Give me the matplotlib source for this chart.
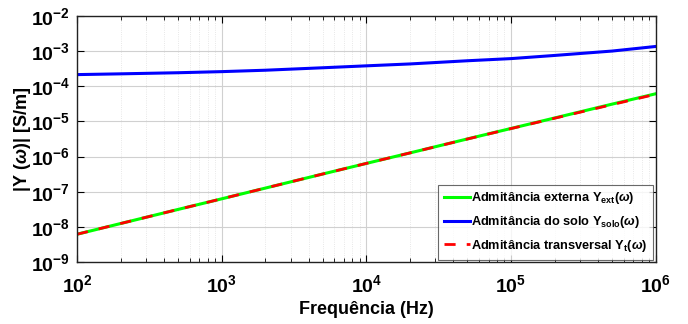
import matplotlib
matplotlib.use("Agg")
import matplotlib.pyplot as plt

plt.rcParams['font.family'] = ['Liberation Sans', 'DejaVu Sans']
plt.rcParams['font.weight'] = 'bold'
plt.rcParams['mathtext.fontset'] = 'custom'
plt.rcParams['mathtext.rm'] = 'Liberation Sans:bold'
plt.rcParams['mathtext.bf'] = 'Liberation Sans:bold'
plt.rcParams['mathtext.it'] = 'Liberation Sans:italic'

# frequency points (Hz) and admittances (S/m)
freq = [1e2, 2e2, 5e2, 1e3, 2e3, 5e3, 1e4, 2e4, 5e4, 1e5, 2e5, 5e5, 1e6]
y_ext = [6.2e-9, 1.25e-8, 3.15e-8, 6.3e-8, 1.27e-7, 3.2e-7, 6.4e-7,
         1.27e-6, 3.18e-6, 6.3e-6, 1.25e-5, 3.1e-5, 6.1e-5]
y_solo = [2.14e-4, 2.25e-4, 2.42e-4, 2.6e-4, 2.85e-4, 3.35e-4, 3.8e-4,
          4.3e-4, 5.3e-4, 6.1e-4, 7.5e-4, 1.0e-3, 1.35e-3]
y_t = [6.2e-9, 1.25e-8, 3.15e-8, 6.3e-8, 1.27e-7, 3.2e-7, 6.4e-7,
       1.27e-6, 3.16e-6, 6.25e-6, 1.23e-5, 3.0e-5, 5.9e-5]

labels = ['Admitância externa Y$_{\\mathbf{ext}}$($\\omega$)',
          'Admitância do solo Y$_{\\mathbf{solo}}$($\\omega$)',
          'Admitância transversal Y$_{\\mathbf{t}}$($\\omega$)']

fig = plt.figure(figsize=(6.88, 3.24), dpi=100)
ax = fig.add_axes([0.112, 0.191, 0.841, 0.760])

ax.loglog(freq, y_ext, color='#00ff00', lw=2.2, label=labels[0])
ax.loglog(freq, y_solo, color='#0000ff', lw=2.2, label=labels[1])
ax.loglog(freq, y_t, color='#ff0000', lw=2.0, ls=(0, (4, 4)), label=labels[2])

ax.set_xlim(1e2, 1e6)
ax.set_ylim(1e-9, 1e-2)
ax.set_xticks([1e2, 1e3, 1e4, 1e5, 1e6])
ax.set_yticks([10.0**k for k in range(-9, -1)])

ax.grid(True, which='major', color='#d0d0d0', lw=0.8)
ax.grid(True, which='minor', color='#e0e0e0', lw=0.6, ls=':')
ax.tick_params(which='both', direction='in', top=True, right=True, labelsize=14)
ax.tick_params(axis='x', which='major', length=5, pad=9)
ax.tick_params(axis='y', which='major', length=5, pad=5)
ax.tick_params(which='minor', length=3)
for s in ax.spines.values():
    s.set_linewidth(1.0)
    s.set_color('#222222')

ax.set_xlabel('Frequência (Hz)', fontsize=13, fontweight='bold', labelpad=3)
ax.set_ylabel('|Y ($\\omega$)| [S/m]', fontsize=13, fontweight='bold')
ax.yaxis.set_label_coords(-0.077, 0.5)

leg = ax.legend(loc='lower right', fontsize=9.2, frameon=True, fancybox=False,
                edgecolor='#444444', handlelength=2.0, handletextpad=0.1,
                borderaxespad=0.2, labelspacing=0.6, borderpad=0.45)
leg.get_frame().set_linewidth(0.8)

fig.savefig('out.png', dpi=100)
